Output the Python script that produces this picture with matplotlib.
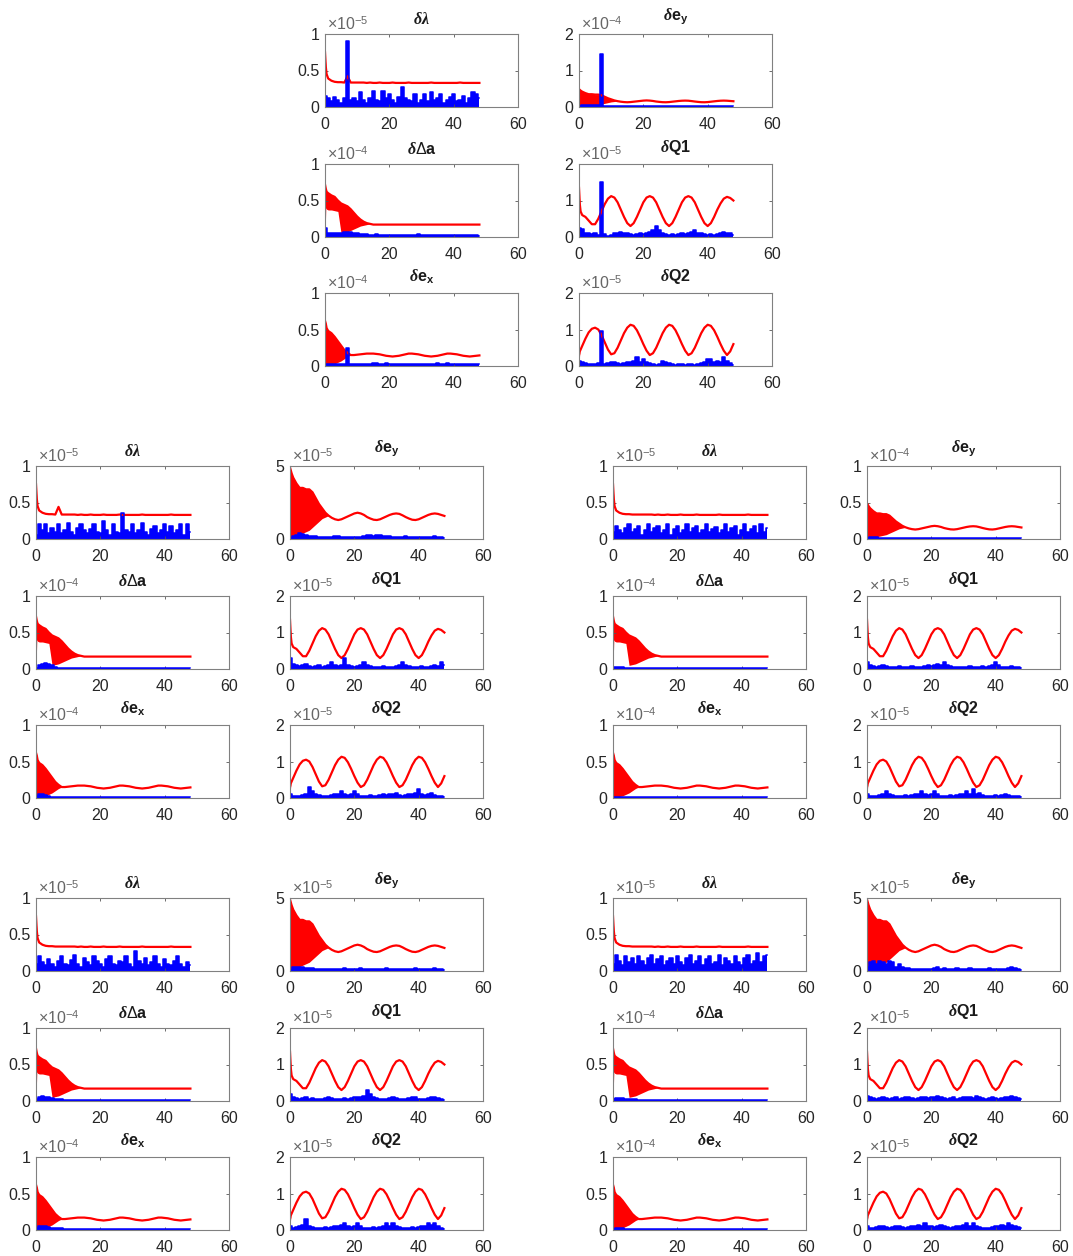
import numpy as np
import matplotlib
matplotlib.use('Agg')
import matplotlib.pyplot as plt

plt.rcParams['font.family'] = ['Liberation Sans', 'DejaVu Sans']
plt.rcParams['mathtext.fontset'] = 'custom'
plt.rcParams['mathtext.rm'] = 'Liberation Sans'
plt.rcParams['mathtext.bf'] = 'Liberation Sans:bold'
plt.rcParams['mathtext.it'] = 'Liberation Serif:italic:bold'

# ---------------- data ----------------
# time axis [h]; red bounds use a finer start
t_red = [0, 0.25, 0.5] + list(range(1, 49))

# state names, titles, base exponent of stored values
states = ['lam', 'ey', 'da', 'q1', 'ex', 'q2']
titles = {'lam': r'$\delta\lambda$',
          'ey': r'$\delta\mathbf{e}_{\mathbf{y}}$',
          'da': r'$\delta\Delta\mathbf{a}$',
          'q1': r'$\delta\mathbf{Q1}$',
          'ex': r'$\delta\mathbf{e}_{\mathbf{x}}$',
          'q2': r'$\delta\mathbf{Q2}$'}
base_exp = {'lam': -5, 'ey': -5, 'da': -4, 'q1': -5, 'ex': -4, 'q2': -5}

# axis exponent / y-limit for each of the 5 groups
axis_exp = {'lam': [-5, -5, -5, -5, -5], 'ey': [-4, -5, -4, -5, -5],
            'da': [-4, -4, -4, -4, -4], 'q1': [-5, -5, -5, -5, -5],
            'ex': [-4, -4, -4, -4, -4], 'q2': [-5, -5, -5, -5, -5]}
axis_top = {'lam': [1, 1, 1, 1, 1], 'ey': [2, 5, 1, 5, 5],
            'da': [1, 1, 1, 1, 1], 'q1': [2, 2, 2, 2, 2],
            'ex': [1, 1, 1, 1, 1], 'q2': [2, 2, 2, 2, 2]}

# red: 3-sigma bound (upper edge) and lower edge of the dense band
lam_red = [0.75, 0.55, 0.45, 0.39, 0.36, 0.345, 0.34, 0.34, 0.335, 0.335, 0.335,
           0.335, 0.335, 0.335, 0.335, 0.33, 0.335, 0.33, 0.33, 0.335, 0.33,
           0.33, 0.33, 0.335, 0.33, 0.33, 0.33, 0.33, 0.335, 0.33, 0.33,
           0.33, 0.33, 0.33, 0.33, 0.335, 0.33, 0.33, 0.33, 0.33, 0.33,
           0.33, 0.33, 0.33, 0.335, 0.33, 0.33, 0.33, 0.33, 0.33, 0.33]
lam_red_lo = [0.0]
lam_bump = [0.42, 0.44, 0.0, 0.0, 0.0]   # red bump at t = 7 h per group

ey_red = [4.9, 4.7, 4.5, 4.2, 3.8, 3.5, 3.5, 3.4, 3.4, 3.2, 2.8,
          2.4, 2.1, 1.8, 1.6, 1.45, 1.35, 1.3, 1.35, 1.45, 1.55,
          1.65, 1.75, 1.8, 1.75, 1.65, 1.5, 1.4, 1.32, 1.3, 1.35,
          1.45, 1.55, 1.65, 1.72, 1.75, 1.72, 1.62, 1.5, 1.4, 1.32,
          1.3, 1.35, 1.45, 1.55, 1.65, 1.72, 1.75, 1.72, 1.65, 1.58]
ey_red_lo = [0.0, 0.05, 0.1, 0.15, 0.2, 0.3, 0.4, 0.5, 0.6, 0.8, 1.0,
             1.2, 1.4, 1.5]

da_red = [0.72, 0.66, 0.62, 0.6, 0.57, 0.55, 0.5, 0.46, 0.44, 0.42, 0.38,
          0.33, 0.28, 0.24, 0.21, 0.19, 0.18, 0.17, 0.17, 0.17, 0.17,
          0.17, 0.17, 0.17, 0.17, 0.17, 0.17, 0.17, 0.17, 0.17, 0.17,
          0.17, 0.17, 0.17, 0.17, 0.17, 0.17, 0.17, 0.17, 0.17, 0.17,
          0.17, 0.17, 0.17, 0.17, 0.17, 0.17, 0.17, 0.17, 0.17, 0.17]
da_red_lo = [0.0, 0.4, 0.38, 0.37, 0.37, 0.36, 0.35, 0.05, 0.06, 0.07, 0.09,
             0.11, 0.13, 0.15, 0.16, 0.17]

ex_red = [0.62, 0.58, 0.52, 0.48, 0.45, 0.4, 0.34, 0.28, 0.22, 0.18, 0.15,
          0.15, 0.155, 0.16, 0.165, 0.17, 0.17, 0.17, 0.165, 0.16, 0.15,
          0.14, 0.135, 0.13, 0.135, 0.14, 0.15, 0.16, 0.17, 0.17, 0.165,
          0.16, 0.15, 0.14, 0.135, 0.13, 0.135, 0.14, 0.15, 0.16, 0.17,
          0.17, 0.165, 0.16, 0.15, 0.14, 0.135, 0.13, 0.135, 0.14, 0.145]
ex_red_lo = [0.0, 0.0, 0.01, 0.01, 0.02, 0.03, 0.05, 0.07, 0.1, 0.13]

q1_red = [1.35, 0.9, 0.7, 0.6, 0.55, 0.45, 0.35, 0.35, 0.5, 0.7, 0.9,
          1.05, 1.12, 1.08, 0.95, 0.75, 0.55, 0.38, 0.3, 0.38, 0.55,
          0.75, 0.95, 1.08, 1.12, 1.08, 0.95, 0.75, 0.55, 0.38, 0.3,
          0.38, 0.55, 0.75, 0.95, 1.08, 1.12, 1.08, 0.95, 0.75, 0.55,
          0.38, 0.3, 0.38, 0.55, 0.75, 0.92, 1.05, 1.1, 1.07, 1.0]
q1_red_lo = [0.0]

q2_red = [0.3, 0.4, 0.45, 0.55, 0.75, 0.92, 1.02, 1.05, 1.0, 0.85, 0.65,
          0.45, 0.32, 0.35, 0.5, 0.7, 0.9, 1.05, 1.13, 1.1, 0.98,
          0.8, 0.6, 0.42, 0.3, 0.35, 0.5, 0.7, 0.9, 1.05, 1.13,
          1.1, 0.98, 0.8, 0.6, 0.42, 0.3, 0.35, 0.5, 0.7, 0.9,
          1.05, 1.13, 1.1, 0.98, 0.8, 0.6, 0.42, 0.3, 0.4, 0.6]
q2_red_lo = [0.0]

red_hi = {'lam': lam_red, 'ey': ey_red, 'da': da_red, 'q1': q1_red, 'ex': ex_red, 'q2': q2_red}
red_lo = {'lam': lam_red_lo, 'ey': ey_red_lo, 'da': da_red_lo, 'q1': q1_red_lo,
          'ex': ex_red_lo, 'q2': q2_red_lo}

# blue: estimation error, hourly, in base units
g0_lam = [0.15, 0.12, 0.08, 0.14, 0.10, 0.06, 0.12,
          0.90, 0.10, 0.13, 0.08, 0.20, 0.10, 0.06,
          0.12, 0.22, 0.10, 0.08, 0.22, 0.12, 0.18,
          0.10, 0.06, 0.14, 0.27, 0.12, 0.10, 0.08,
          0.18, 0.06, 0.10, 0.18, 0.08, 0.20, 0.10,
          0.12, 0.18, 0.06, 0.10, 0.14, 0.18, 0.08,
          0.10, 0.15, 0.06, 0.12, 0.20, 0.18, 0.12]
g0_ey = [0.3, 0.5, 0.6, 0.6, 0.6, 0.6, 0.6,
         14.5, 0.4, 0.3, 0.2, 0.2, 0.2, 0.2,
         0.2, 0.2, 0.25, 0.2, 0.2, 0.2, 0.2,
         0.25, 0.2, 0.2, 0.2, 0.2, 0.25, 0.2,
         0.2, 0.2, 0.2, 0.2, 0.25, 0.2, 0.2,
         0.2, 0.2, 0.2, 0.25, 0.2, 0.2, 0.2,
         0.2, 0.2, 0.2, 0.2, 0.25, 0.2, 0.2]
g0_da = [0.12, 0.05, 0.05, 0.05, 0.06, 0.06, 0.07,
         0.07, 0.07, 0.06, 0.05, 0.04, 0.04, 0.035,
         0.03, 0.03, 0.035, 0.03, 0.03, 0.03, 0.025,
         0.03, 0.03, 0.025, 0.03, 0.03, 0.025, 0.03,
         0.03, 0.035, 0.03, 0.025, 0.03, 0.03, 0.025,
         0.03, 0.03, 0.025, 0.03, 0.03, 0.03, 0.025,
         0.03, 0.03, 0.025, 0.03, 0.03, 0.025, 0.02]
g0_q1 = [0.25, 0.22, 0.10, 0.12, 0.08, 0.10, 0.06,
         1.50, 0.08, 0.04, 0.06, 0.10, 0.12, 0.14,
         0.12, 0.10, 0.08, 0.06, 0.08, 0.10, 0.08,
         0.12, 0.14, 0.18, 0.30, 0.20, 0.10, 0.08,
         0.06, 0.08, 0.06, 0.08, 0.10, 0.08, 0.12,
         0.14, 0.20, 0.12, 0.10, 0.08, 0.06, 0.08,
         0.06, 0.08, 0.10, 0.15, 0.12, 0.10, 0.06]
g0_ex = [0.03, 0.03, 0.03, 0.03, 0.03, 0.03, 0.03,
         0.25, 0.03, 0.03, 0.03, 0.025, 0.025, 0.03,
         0.03, 0.035, 0.035, 0.03, 0.03, 0.035, 0.03,
         0.03, 0.025, 0.025, 0.03, 0.03, 0.03, 0.025,
         0.03, 0.03, 0.025, 0.03, 0.03, 0.03, 0.03,
         0.035, 0.03, 0.03, 0.035, 0.03, 0.03, 0.03,
         0.025, 0.03, 0.03, 0.03, 0.03, 0.03, 0.03]
g0_q2 = [0.15, 0.12, 0.08, 0.06, 0.05, 0.06, 0.08,
         0.95, 0.06, 0.08, 0.10, 0.12, 0.08, 0.06,
         0.08, 0.10, 0.12, 0.14, 0.25, 0.12, 0.20,
         0.10, 0.08, 0.06, 0.04, 0.06, 0.15, 0.12,
         0.08, 0.06, 0.04, 0.06, 0.05, 0.04, 0.06,
         0.05, 0.04, 0.05, 0.08, 0.12, 0.18, 0.20,
         0.12, 0.15, 0.10, 0.25, 0.15, 0.08, 0.03]

g1_lam = [0.05, 0.20, 0.12, 0.20, 0.08, 0.15, 0.10,
          0.20, 0.08, 0.12, 0.22, 0.10, 0.06, 0.15,
          0.20, 0.12, 0.08, 0.14, 0.20, 0.10, 0.08,
          0.25, 0.12, 0.06, 0.20, 0.10, 0.08, 0.35,
          0.12, 0.10, 0.20, 0.08, 0.12, 0.22, 0.10,
          0.06, 0.14, 0.18, 0.08, 0.12, 0.20, 0.10,
          0.18, 0.08, 0.12, 0.20, 0.06, 0.20, 0.10]
g1_ey = [0.10, 0.20, 0.30, 0.40, 0.35, 0.25, 0.20,
         0.20, 0.20, 0.15, 0.15, 0.15, 0.15, 0.15,
         0.20, 0.20, 0.15, 0.15, 0.15, 0.15, 0.15,
         0.15, 0.15, 0.20, 0.25, 0.30, 0.20, 0.30,
         0.25, 0.20, 0.20, 0.20, 0.15, 0.15, 0.15,
         0.15, 0.20, 0.15, 0.15, 0.15, 0.15, 0.15,
         0.15, 0.15, 0.15, 0.20, 0.15, 0.15, 0.10]
g1_da = [0.02, 0.06, 0.07, 0.08, 0.07, 0.05, 0.03,
         0.02, 0.02, 0.015, 0.015, 0.01, 0.01, 0.01,
         0.01, 0.015, 0.01, 0.01, 0.01, 0.01, 0.015,
         0.01, 0.01, 0.01, 0.015, 0.01, 0.01, 0.01,
         0.01, 0.01, 0.015, 0.01, 0.01, 0.01, 0.01,
         0.015, 0.01, 0.01, 0.01, 0.01, 0.01, 0.015,
         0.01, 0.01, 0.01, 0.01, 0.015, 0.01, 0.01]
g1_q1 = [0.30, 0.15, 0.10, 0.08, 0.10, 0.15, 0.08,
         0.06, 0.08, 0.10, 0.06, 0.08, 0.12, 0.20,
         0.10, 0.08, 0.12, 0.30, 0.10, 0.08, 0.06,
         0.08, 0.10, 0.20, 0.12, 0.08, 0.06, 0.05,
         0.06, 0.08, 0.06, 0.05, 0.06, 0.08, 0.10,
         0.20, 0.12, 0.08, 0.06, 0.05, 0.06, 0.08,
         0.06, 0.05, 0.08, 0.10, 0.08, 0.20, 0.10]
g1_ex = [0.03, 0.05, 0.05, 0.04, 0.03, 0.02, 0.02,
         0.02, 0.015, 0.015, 0.015, 0.01, 0.01, 0.01,
         0.015, 0.01, 0.01, 0.01, 0.015, 0.01, 0.01,
         0.01, 0.01, 0.015, 0.01, 0.01, 0.01, 0.015,
         0.01, 0.01, 0.01, 0.01, 0.015, 0.01, 0.01,
         0.01, 0.015, 0.01, 0.01, 0.01, 0.01, 0.015,
         0.01, 0.01, 0.01, 0.015, 0.01, 0.01, 0.01]
g1_q2 = [0.10, 0.06, 0.05, 0.06, 0.08, 0.10, 0.30,
         0.20, 0.10, 0.08, 0.06, 0.05, 0.06, 0.08,
         0.10, 0.12, 0.20, 0.10, 0.08, 0.12, 0.20,
         0.10, 0.06, 0.05, 0.06, 0.08, 0.06, 0.05,
         0.08, 0.10, 0.08, 0.12, 0.10, 0.15, 0.08,
         0.06, 0.08, 0.10, 0.12, 0.15, 0.25, 0.10,
         0.08, 0.10, 0.15, 0.08, 0.06, 0.05, 0.04]

g2_lam = [0.10, 0.18, 0.12, 0.08, 0.15, 0.20, 0.10,
          0.14, 0.18, 0.06, 0.12, 0.20, 0.10, 0.15,
          0.18, 0.08, 0.12, 0.20, 0.06, 0.14, 0.18,
          0.08, 0.12, 0.20, 0.10, 0.15, 0.18, 0.08,
          0.12, 0.20, 0.10, 0.14, 0.16, 0.08, 0.12,
          0.20, 0.10, 0.15, 0.18, 0.06, 0.12, 0.20,
          0.10, 0.14, 0.18, 0.08, 0.20, 0.10, 0.15]
g2_ey = [0.2, 0.3, 0.3, 0.25, 0.2, 0.2, 0.2,
         0.2, 0.2, 0.2, 0.15, 0.15, 0.15, 0.15,
         0.15, 0.15, 0.2, 0.15, 0.15, 0.15, 0.15,
         0.15, 0.15, 0.15, 0.2, 0.15, 0.15, 0.15,
         0.15, 0.15, 0.15, 0.15, 0.15, 0.2, 0.15,
         0.15, 0.15, 0.15, 0.15, 0.15, 0.15, 0.15,
         0.2, 0.15, 0.15, 0.15, 0.15, 0.15, 0.15]
g2_da = [0.03, 0.03, 0.03, 0.025, 0.02, 0.02, 0.02,
         0.02, 0.02, 0.015, 0.015, 0.015, 0.015, 0.015,
         0.015, 0.015, 0.015, 0.015, 0.015, 0.015, 0.015,
         0.015, 0.015, 0.015, 0.015, 0.015, 0.015, 0.015,
         0.015, 0.015, 0.015, 0.015, 0.015, 0.015, 0.015,
         0.015, 0.015, 0.015, 0.015, 0.015, 0.015, 0.015,
         0.015, 0.015, 0.015, 0.015, 0.015, 0.015, 0.015]
g2_q1 = [0.20, 0.12, 0.08, 0.06, 0.08, 0.10, 0.08,
         0.06, 0.05, 0.06, 0.08, 0.06, 0.05, 0.06,
         0.08, 0.06, 0.05, 0.06, 0.08, 0.10, 0.08,
         0.12, 0.15, 0.10, 0.18, 0.10, 0.08, 0.06,
         0.05, 0.06, 0.05, 0.06, 0.08, 0.06, 0.05,
         0.06, 0.08, 0.06, 0.08, 0.12, 0.20, 0.10,
         0.06, 0.05, 0.06, 0.08, 0.06, 0.05, 0.04]
g2_ex = [0.02, 0.02, 0.02, 0.02, 0.015, 0.015, 0.015,
         0.015, 0.015, 0.015, 0.015, 0.015, 0.015, 0.015,
         0.015, 0.015, 0.015, 0.015, 0.015, 0.015, 0.015,
         0.015, 0.015, 0.015, 0.015, 0.015, 0.015, 0.015,
         0.015, 0.015, 0.015, 0.015, 0.015, 0.015, 0.015,
         0.015, 0.015, 0.015, 0.015, 0.015, 0.015, 0.015,
         0.015, 0.015, 0.015, 0.015, 0.015, 0.015, 0.015]
g2_q2 = [0.10, 0.06, 0.05, 0.06, 0.08, 0.12, 0.20,
         0.10, 0.08, 0.06, 0.05, 0.06, 0.08, 0.06,
         0.08, 0.10, 0.12, 0.20, 0.10, 0.08, 0.12,
         0.20, 0.10, 0.06, 0.05, 0.06, 0.08, 0.06,
         0.08, 0.10, 0.12, 0.20, 0.10, 0.25, 0.12,
         0.15, 0.08, 0.06, 0.05, 0.06, 0.08, 0.06,
         0.08, 0.10, 0.08, 0.06, 0.05, 0.06, 0.04]

g3_lam = [0.10, 0.20, 0.12, 0.08, 0.16, 0.10, 0.06,
          0.14, 0.20, 0.10, 0.08, 0.15, 0.22, 0.10,
          0.06, 0.18, 0.12, 0.08, 0.20, 0.14, 0.10,
          0.06, 0.16, 0.20, 0.10, 0.08, 0.14, 0.12,
          0.20, 0.10, 0.06, 0.27, 0.14, 0.10, 0.18,
          0.08, 0.12, 0.20, 0.10, 0.06, 0.16, 0.10,
          0.08, 0.14, 0.20, 0.10, 0.06, 0.12, 0.08]
g3_ey = [0.10, 0.25, 0.30, 0.30, 0.25, 0.20, 0.20,
         0.20, 0.15, 0.15, 0.15, 0.15, 0.15, 0.15,
         0.15, 0.15, 0.15, 0.20, 0.15, 0.15, 0.15,
         0.15, 0.20, 0.15, 0.15, 0.15, 0.15, 0.15,
         0.15, 0.15, 0.20, 0.15, 0.15, 0.15, 0.15,
         0.15, 0.15, 0.15, 0.15, 0.20, 0.15, 0.15,
         0.15, 0.15, 0.15, 0.20, 0.15, 0.15, 0.10]
g3_da = [0.03, 0.06, 0.07, 0.06, 0.05, 0.04, 0.03,
         0.03, 0.025, 0.02, 0.02, 0.02, 0.02, 0.02,
         0.02, 0.02, 0.02, 0.02, 0.02, 0.02, 0.02,
         0.02, 0.02, 0.02, 0.02, 0.02, 0.02, 0.02,
         0.02, 0.02, 0.02, 0.02, 0.02, 0.02, 0.02,
         0.02, 0.02, 0.02, 0.02, 0.02, 0.02, 0.02,
         0.02, 0.02, 0.02, 0.02, 0.02, 0.02, 0.02]
g3_q1 = [0.20, 0.10, 0.08, 0.06, 0.08, 0.10, 0.06,
         0.08, 0.06, 0.05, 0.06, 0.08, 0.10, 0.08,
         0.06, 0.05, 0.06, 0.08, 0.06, 0.08, 0.10,
         0.12, 0.10, 0.15, 0.30, 0.20, 0.10, 0.08,
         0.06, 0.05, 0.06, 0.08, 0.10, 0.08, 0.06,
         0.05, 0.06, 0.08, 0.12, 0.10, 0.06, 0.05,
         0.06, 0.08, 0.10, 0.12, 0.08, 0.06, 0.04]
g3_ex = [0.03, 0.05, 0.06, 0.05, 0.04, 0.03, 0.03,
         0.03, 0.025, 0.02, 0.02, 0.02, 0.02, 0.02,
         0.02, 0.02, 0.02, 0.02, 0.02, 0.02, 0.02,
         0.02, 0.02, 0.02, 0.02, 0.02, 0.02, 0.02,
         0.02, 0.02, 0.02, 0.02, 0.02, 0.02, 0.02,
         0.02, 0.02, 0.02, 0.02, 0.02, 0.02, 0.02,
         0.02, 0.02, 0.02, 0.02, 0.02, 0.02, 0.02]
g3_q2 = [0.10, 0.06, 0.08, 0.12, 0.15, 0.30, 0.12,
         0.08, 0.06, 0.05, 0.06, 0.08, 0.06, 0.08,
         0.10, 0.12, 0.15, 0.20, 0.10, 0.08, 0.12,
         0.20, 0.10, 0.06, 0.05, 0.06, 0.08, 0.06,
         0.08, 0.10, 0.20, 0.12, 0.20, 0.10, 0.08,
         0.06, 0.05, 0.06, 0.08, 0.06, 0.08, 0.10,
         0.12, 0.20, 0.15, 0.20, 0.10, 0.06, 0.04]

g4_lam = [0.10, 0.22, 0.14, 0.08, 0.20, 0.12, 0.18,
          0.10, 0.20, 0.14, 0.08, 0.18, 0.22, 0.10,
          0.16, 0.20, 0.08, 0.14, 0.18, 0.10, 0.20,
          0.12, 0.08, 0.18, 0.22, 0.10, 0.14, 0.20,
          0.08, 0.16, 0.20, 0.10, 0.12, 0.22, 0.08,
          0.18, 0.14, 0.10, 0.20, 0.12, 0.08, 0.18,
          0.22, 0.10, 0.14, 0.25, 0.12, 0.20, 0.22]
g4_ey = [0.30, 0.60, 0.70, 0.50, 0.70, 0.60, 0.50,
         0.70, 0.60, 0.30, 0.50, 0.30, 0.20, 0.20,
         0.15, 0.15, 0.15, 0.15, 0.15, 0.15, 0.15,
         0.20, 0.25, 0.15, 0.20, 0.15, 0.15, 0.15,
         0.20, 0.15, 0.15, 0.15, 0.20, 0.15, 0.15,
         0.15, 0.15, 0.15, 0.20, 0.15, 0.15, 0.15,
         0.15, 0.15, 0.20, 0.25, 0.20, 0.15, 0.10]
g4_da = [0.03, 0.04, 0.04, 0.035, 0.03, 0.03, 0.025,
         0.025, 0.02, 0.02, 0.02, 0.02, 0.02, 0.02,
         0.02, 0.02, 0.02, 0.02, 0.02, 0.02, 0.02,
         0.02, 0.02, 0.02, 0.02, 0.02, 0.02, 0.02,
         0.02, 0.02, 0.02, 0.02, 0.02, 0.02, 0.02,
         0.02, 0.02, 0.02, 0.02, 0.02, 0.02, 0.02,
         0.02, 0.02, 0.02, 0.02, 0.02, 0.02, 0.02]
g4_q1 = [0.15, 0.10, 0.08, 0.06, 0.08, 0.10, 0.08,
         0.06, 0.08, 0.10, 0.06, 0.08, 0.10, 0.12,
         0.08, 0.06, 0.08, 0.10, 0.12, 0.08, 0.10,
         0.12, 0.15, 0.10, 0.08, 0.06, 0.08, 0.10,
         0.06, 0.08, 0.10, 0.12, 0.10, 0.08, 0.15,
         0.10, 0.08, 0.06, 0.08, 0.10, 0.08, 0.06,
         0.08, 0.10, 0.12, 0.15, 0.10, 0.08, 0.05]
g4_ex = [0.02, 0.03, 0.03, 0.025, 0.02, 0.02, 0.02,
         0.02, 0.015, 0.015, 0.015, 0.015, 0.015, 0.015,
         0.015, 0.015, 0.015, 0.015, 0.015, 0.015, 0.015,
         0.015, 0.015, 0.015, 0.015, 0.015, 0.015, 0.015,
         0.015, 0.015, 0.015, 0.015, 0.015, 0.015, 0.015,
         0.015, 0.015, 0.015, 0.015, 0.015, 0.015, 0.015,
         0.015, 0.015, 0.015, 0.015, 0.015, 0.015, 0.015]
g4_q2 = [0.10, 0.06, 0.05, 0.08, 0.10, 0.12, 0.08,
         0.06, 0.08, 0.10, 0.12, 0.08, 0.06, 0.08,
         0.10, 0.12, 0.15, 0.10, 0.20, 0.12, 0.10,
         0.08, 0.12, 0.15, 0.10, 0.08, 0.06, 0.08,
         0.10, 0.12, 0.15, 0.18, 0.12, 0.20, 0.10,
         0.08, 0.06, 0.05, 0.06, 0.08, 0.10, 0.12,
         0.15, 0.12, 0.20, 0.15, 0.10, 0.08, 0.05]

blue = [
    {'lam': g0_lam, 'ey': g0_ey, 'da': g0_da, 'q1': g0_q1, 'ex': g0_ex, 'q2': g0_q2},
    {'lam': g1_lam, 'ey': g1_ey, 'da': g1_da, 'q1': g1_q1, 'ex': g1_ex, 'q2': g1_q2},
    {'lam': g2_lam, 'ey': g2_ey, 'da': g2_da, 'q1': g2_q1, 'ex': g2_ex, 'q2': g2_q2},
    {'lam': g3_lam, 'ey': g3_ey, 'da': g3_da, 'q1': g3_q1, 'ex': g3_ex, 'q2': g3_q2},
    {'lam': g4_lam, 'ey': g4_ey, 'da': g4_da, 'q1': g4_q1, 'ex': g4_ex, 'q2': g4_q2},
]

# ---------------- layout (pixels) ----------------
W, H = 1073, 1256
AW, AH = 193, 73
group_left = [325, 36, 613, 36, 613]
group_top = [34, 466, 466, 898, 898]
col_off = [0, 254]
row_off = [0, 130, 259]
panel_pos = {'lam': (0, 0), 'ey': (0, 1), 'da': (1, 0), 'q1': (1, 1), 'ex': (2, 0), 'q2': (2, 1)}

fig = plt.figure(figsize=(W / 100, H / 100), dpi=100)
tr = np.array(t_red, dtype=float)

for g in range(5):
    for key in states:
        r, c = panel_pos[key]
        x0 = group_left[g] + col_off[c]
        y0 = group_top[g] + row_off[r]
        ax = fig.add_axes([x0 / W, 1 - (y0 + AH) / H, AW / W, AH / H])

        f = 10.0 ** (base_exp[key] - axis_exp[key][g])
        hi = np.array(red_hi[key], dtype=float)
        if key == 'lam':
            i7 = np.argmin(abs(tr - 7))
            hi[i7] = max(hi[i7], lam_bump[g])
        lo = np.r_[red_lo[key], hi[len(red_lo[key]):]]
        ax.fill_between(tr, lo * f, hi * f, color='red', lw=0)
        ax.plot(tr, hi * f, color='red', lw=1.6)

        v = np.array(blue[g][key], dtype=float) * f
        tb = np.arange(len(v))
        ax.fill_between(tb, 0, v, step='mid', color='blue', lw=0)
        ax.plot(tb, v, color='blue', lw=1.1, drawstyle='steps-mid')

        top = axis_top[key][g]
        ax.set_xlim(0, 60)
        ax.set_ylim(0, top)
        ax.set_xticks([0, 20, 40, 60])
        if top == 1:
            ax.set_yticks([0, 0.5, 1])
            ax.set_yticklabels(['0', '0.5', '1'])
        elif top == 2:
            ax.set_yticks([0, 1, 2])
        else:
            ax.set_yticks([0, 5])
        ax.tick_params(direction='in', length=2.5, width=0.6, top=True, right=True,
                       labelsize=11.5, color='#555555', labelcolor='#262626')
        ax.tick_params(axis='x', pad=7)
        ax.tick_params(axis='y', pad=4)
        for s in ax.spines.values():
            s.set_color('#808080')
            s.set_linewidth(0.8)

        ax.text(0.5, 1.1, titles[key], transform=ax.transAxes, ha='center',
                va='bottom', fontsize=11.5, fontweight='bold', color='#1a1a1a')
        ax.text(0.01, 1.02, r'$\times10^{%d}$' % axis_exp[key][g], transform=ax.transAxes,
                ha='left', va='bottom', fontsize=11.5, color='#666666')

fig.savefig('out.png', dpi=100)
